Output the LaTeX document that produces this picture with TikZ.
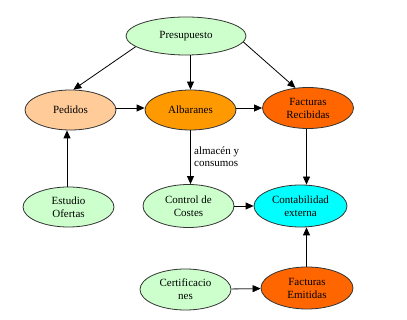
\documentclass[tikz,border=0pt]{standalone}
\usepackage{fontspec}
\setmainfont{Liberation Serif}
\usetikzlibrary{shapes.geometric,arrows.meta}
\definecolor{lgreen}{HTML}{CCFFCC}
\definecolor{peach}{HTML}{FFCC99}
\definecolor{amber}{HTML}{FF9900}
\definecolor{dorange}{HTML}{FF6600}
\definecolor{cyanc}{HTML}{00FFFF}
\definecolor{edge}{HTML}{333333}
\tikzset{
  ell/.style={ellipse, draw=edge, line width=0.8pt, inner sep=0pt,
    minimum width=91pt, minimum height=40pt, align=center,
    font=\fontsize{11}{13}\selectfont},
  arr/.style={-{Triangle[length=8pt,width=7pt]}, line width=0.8pt, draw=black},
  garr/.style={line width=1.3pt, draw=black!55, -{Triangle[length=8pt,width=7pt,color=black,fill=black,line width=0.5pt]}},
  lbl/.style={font=\fontsize{11}{12}\selectfont, align=left, inner sep=0pt}
}
\begin{document}
\begin{tikzpicture}[x=1pt,y=-1pt]
\useasboundingbox[fill=white] (0,0) rectangle (407,320);
\node[ell, fill=lgreen, minimum width=120pt, minimum height=38pt] (pres) at (186,36) {Presupuesto};
\node[ell, fill=peach] (ped) at (70.5,110) {Pedidos};
\node[ell, fill=amber] (alb) at (190.5,110) {Albaranes};
\node[ell, fill=dorange, minimum height=41pt] (fr) at (308,108) {Facturas\\Recibidas};
\node[ell, fill=lgreen] (est) at (68.5,207) {Estudio\\Ofertas};
\node[ell, fill=lgreen, minimum height=43pt] (ctrl) at (188.5,206) {Control de\\Costes};
\node[ell, fill=cyanc, minimum width=93pt, minimum height=42pt] (cont) at (300.5,206) {Contabilidad\\externa};
\node[ell, fill=lgreen, minimum height=41pt] (cert) at (185.5,289.5) {Certificacio\\nes};
\node[ell, fill=dorange, minimum width=92pt, minimum height=42pt] (fe) at (307,288) {Facturas\\Emitidas};

\draw[arr] (pres.192) -- (ped.82);
\draw[arr] (pres.south -| alb.north) -- (alb.north);
\draw[arr] (pres.-6) -- (fr.122);
\draw[arr] (ped.east |- 0,108) -- (alb.west |- 0,108);
\draw[arr] (alb.east |- 0,108) -- (fr.west |- 0,108);
\draw[arr] (est.north -| 67,0) -- (ped.south -| 67,0);
\draw[arr] (alb.south -| 190.5,0) -- (ctrl.north -| 190.5,0);
\node[lbl, anchor=north west] (almlbl) at (194,147) {almacén y\\consumos};
\draw[arr] (fr.south -| 306.5,0) -- (cont.north -| 306.5,0);
\draw[arr] (ctrl) -- (cont);
\draw[arr] (fe.north -| 306.5,0) -- (cont.south -| 306.5,0);
\draw[garr] (cert) -- (fe);
\end{tikzpicture}
\end{document}
